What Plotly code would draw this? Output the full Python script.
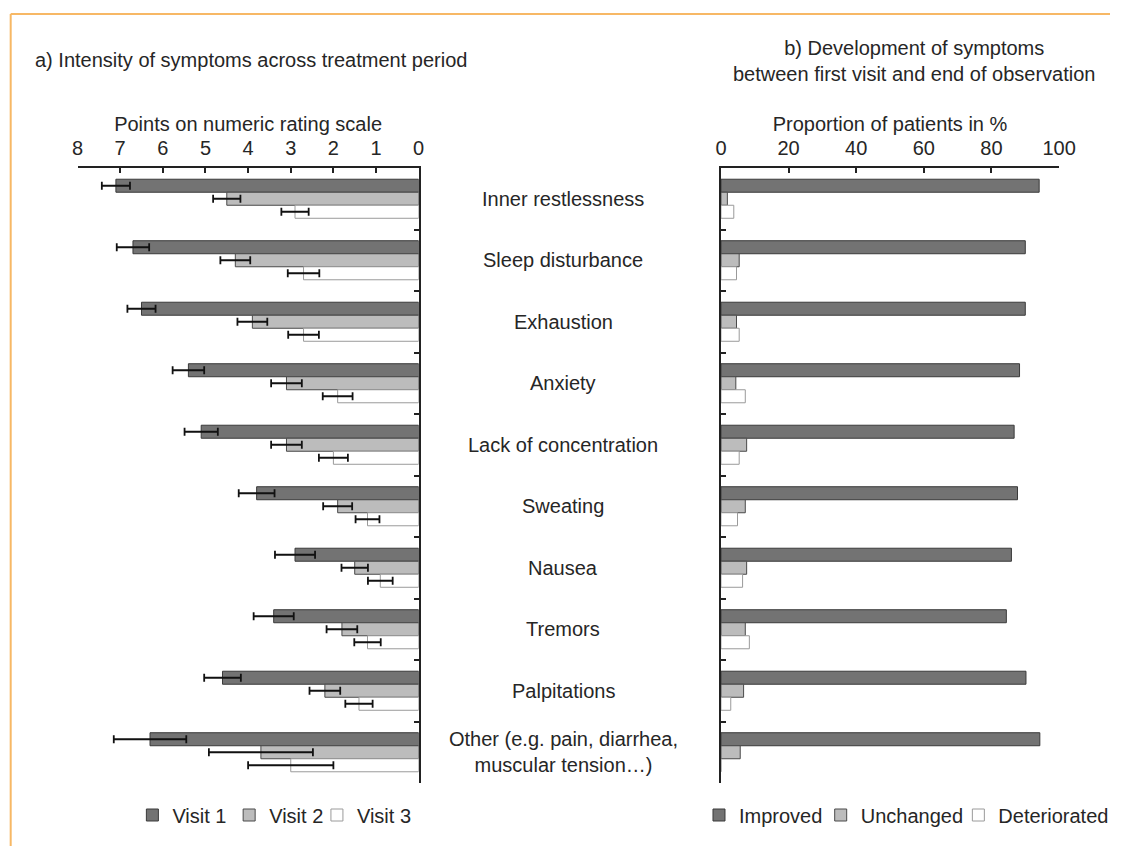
import plotly.graph_objects as go

W, H = 1127, 846

categories = ["Inner restlessness", "Sleep disturbance", "Exhaustion", "Anxiety",
              "Lack of concentration", "Sweating", "Nausea", "Tremors", "Palpitations",
              "Other (e.g. pain, diarrhea,<br>muscular tension…)"]

visit1 = [7.1, 6.7, 6.5, 5.4, 5.1, 3.8, 2.9, 3.4, 4.6, 6.3]
visit1_err = [0.33, 0.38, 0.33, 0.37, 0.39, 0.42, 0.47, 0.47, 0.43, 0.85]
visit2 = [4.5, 4.3, 3.9, 3.1, 3.1, 1.9, 1.5, 1.8, 2.2, 3.7]
visit2_err = [0.32, 0.35, 0.35, 0.36, 0.36, 0.34, 0.31, 0.36, 0.36, 1.22]
visit3 = [2.9, 2.7, 2.7, 1.9, 2.0, 1.2, 0.9, 1.2, 1.4, 3.0]
visit3_err = [0.32, 0.37, 0.36, 0.35, 0.34, 0.28, 0.29, 0.31, 0.32, 1.0]

improved = [94.1, 90.0, 90.0, 88.3, 86.7, 87.7, 85.9, 84.4, 90.2, 94.3]
unchanged = [1.9, 5.4, 4.6, 4.4, 7.6, 7.2, 7.6, 7.2, 6.7, 5.7]
deteriorated = [3.8, 4.6, 5.4, 7.2, 5.4, 4.9, 6.4, 8.4, 2.9, 0.0]

left_ticks = [8, 7, 6, 5, 4, 3, 2, 1, 0]
right_ticks = [0, 20, 40, 60, 80, 100]

FONT = "Liberation Sans, Arial, sans-serif"
FS = 20
TXT = "#262626"
C1, C1L = "#737373", "#3a3a3a"
C2, C2L = "#bcbcbc", "#4a4a4a"
C3, C3L = "#ffffff", "#9a9a9a"

fig = go.Figure()

def err(a):
    return dict(type="data", array=a, visible=True, color="#111111", thickness=1.8, width=4)

fig.add_trace(go.Bar(y=categories, x=visit1, orientation="h", name="Visit 1",
                     marker=dict(color=C1, line=dict(color=C1L, width=1)),
                     error_x=err(visit1_err), xaxis="x", yaxis="y", legend="legend"))
fig.add_trace(go.Bar(y=categories, x=visit2, orientation="h", name="Visit 2",
                     marker=dict(color=C2, line=dict(color=C2L, width=1)),
                     error_x=err(visit2_err), xaxis="x", yaxis="y", legend="legend2"))
fig.add_trace(go.Bar(y=categories, x=visit3, orientation="h", name="Visit 3",
                     marker=dict(color=C3, line=dict(color=C3L, width=1)),
                     error_x=err(visit3_err), xaxis="x", yaxis="y", legend="legend3"))

fig.add_trace(go.Bar(y=categories, x=improved, orientation="h", name="Improved",
                     marker=dict(color=C1, line=dict(color=C1L, width=1)),
                     xaxis="x2", yaxis="y2", legend="legend4"))
fig.add_trace(go.Bar(y=categories, x=unchanged, orientation="h", name="Unchanged",
                     marker=dict(color=C2, line=dict(color=C2L, width=1)),
                     xaxis="x2", yaxis="y2", legend="legend5"))
fig.add_trace(go.Bar(y=categories, x=deteriorated, orientation="h", name="Deteriorated",
                     marker=dict(color=C3, line=dict(color=C3L, width=1)),
                     xaxis="x2", yaxis="y2", legend="legend6"))

# horizontal correction observed in the rendered screenshot
SX, OX = 0.982, 4.3

def px_x(p):
    return min(1.0, max(0.0, (p - OX) / SX / W))

def px_y(p):
    return 1 - p / H

ydom = [px_y(783), px_y(168)]

axis_common = dict(showline=True, linecolor="#222222", linewidth=1.5, ticks="inside",
                   ticklen=5, tickwidth=1.5, tickcolor="#222222", showgrid=False,
                   zeroline=False)
xaxis_extra = dict(tickfont=dict(size=FS, color=TXT, family=FONT), ticklabelstandoff=3)

def leg(text_start):
    return dict(orientation="h", x=px_x(text_start - 39), xanchor="left", y=px_y(815),
                yanchor="middle", font=dict(size=FS, color=TXT), itemwidth=30,
                bgcolor="rgba(0,0,0,0)")

fig.update_layout(
    width=W, height=H, margin=dict(l=0, r=0, t=0, b=0),
    paper_bgcolor="white", plot_bgcolor="white",
    font=dict(family=FONT, size=FS, color=TXT),
    barmode="group", bargap=0.365, bargroupgap=0,
    xaxis=dict(domain=[px_x(76), px_x(418)], range=[8, 0], side="top", anchor="y",
               tickvals=left_ticks, ticktext=[str(t) for t in left_ticks],
               title=dict(text="Points on numeric rating scale", standoff=0,
                          font=dict(size=FS, color=TXT)),
               **axis_common, **xaxis_extra),
    yaxis=dict(domain=ydom, anchor="x", side="right", autorange="reversed",
               tickson="boundaries", showticklabels=False, **axis_common),
    xaxis2=dict(domain=[px_x(721), px_x(1060)], range=[0, 100], side="top", anchor="y2",
                tickvals=right_ticks, ticktext=[str(t) for t in right_ticks],
                title=dict(text="Proportion of patients in %", standoff=0,
                           font=dict(size=FS, color=TXT)),
                **axis_common, **xaxis_extra),
    yaxis2=dict(domain=ydom, anchor="x2", side="left", autorange="reversed",
                tickson="boundaries", showticklabels=False, **axis_common),
    legend=leg(170), legend2=leg(267), legend3=leg(355),
    legend4=leg(738), legend5=leg(860), legend6=leg(998),
    showlegend=True,
)

# category labels between the panels
for c in categories:
    fig.add_annotation(x=px_x(563), xref="paper", y=c, yref="y", text=c, showarrow=False,
                       xanchor="center", yanchor="middle", align="center",
                       font=dict(size=FS, color=TXT, family=FONT))

fig.add_annotation(x=px_x(31), y=px_y(60), xref="paper", yref="paper",
                   text="a) Intensity of symptoms across treatment period", showarrow=False,
                   xanchor="left", yanchor="middle", font=dict(size=FS, color=TXT))
fig.add_annotation(x=px_x(915), y=px_y(61), xref="paper", yref="paper",
                   text="b) Development of symptoms<br>between first visit and end of observation",
                   showarrow=False, xanchor="center", yanchor="middle", align="center",
                   font=dict(size=FS, color=TXT))

# orange frame
fig.add_shape(type="line", xref="paper", yref="paper", x0=px_x(9), x1=1, y0=px_y(14), y1=px_y(14),
              line=dict(color="#f7b865", width=2))
fig.add_shape(type="line", xref="paper", yref="paper", x0=px_x(9), x1=px_x(9), y0=px_y(14), y1=0,
              line=dict(color="#f7b865", width=2))

fig.write_html("out.html", config={"displayModeBar": False},
               post_script="document.body.style.margin='0';document.body.style.overflow='hidden';")
